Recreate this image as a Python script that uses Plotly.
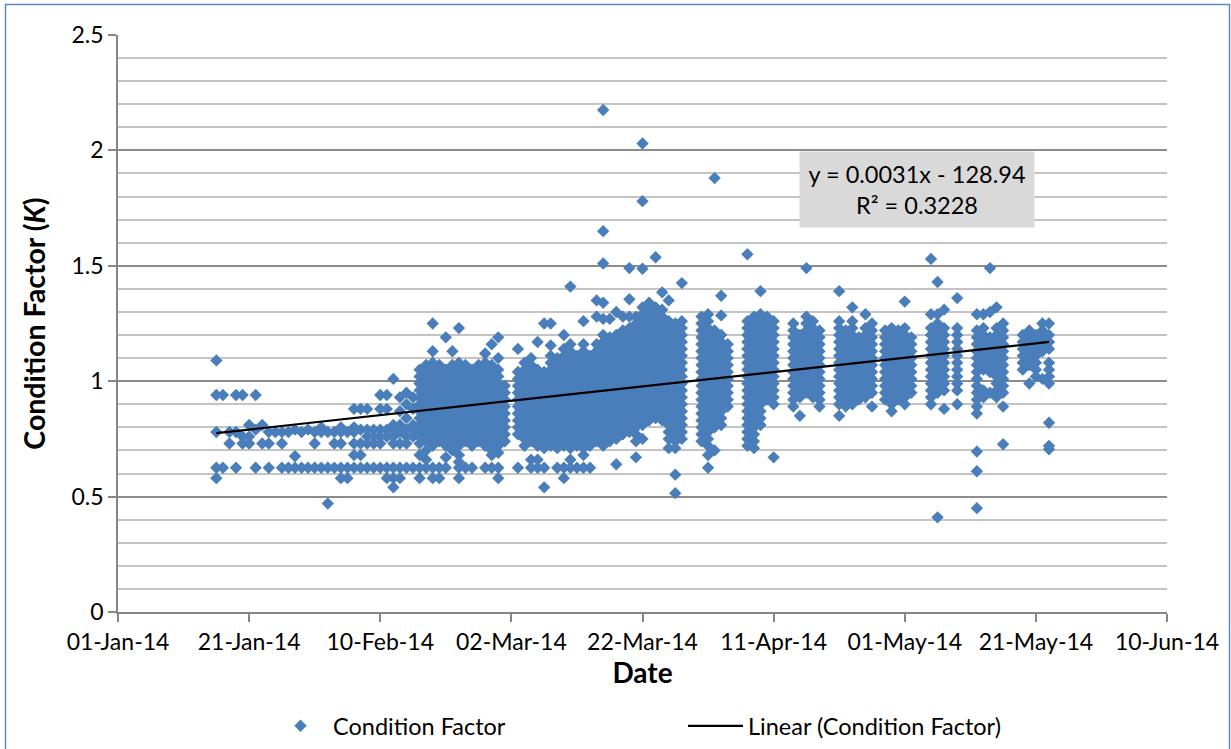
from datetime import date, timedelta
import plotly.graph_objects as go

START = date(2014, 1, 1)

# days after 1 Jan 2014 on which samples were taken
sample_days = [15,16,17,18,19,20,21,22,23,24,25,26,27,28,29,30,31,32,33,34,35,36,37,38,39,40,41,42,43,44,45,46,47,48,49,50,51,52,53,54,55,56,57,58,59,
               61,62,63,64,65,66,67,68,69,70,71,72,73,74,75,76,77,78,79,80,81,82,83,84,85,86,
               89,90,91,92,93,96,97,98,99,100,103,104,105,106,107,110,111,112,113,114,115,117,118,119,120,121,124,125,126,128,131,132,133,134,135,138,139,140,141,142]

# condition factor readings for each sample day
k_by_day = [
 [1.09,.94,.78,.625,.58],[.94,.625],[.78,.73],[.94,.78,.625],[.94,.76,.73],[.81,.76,.73],[.94,.79,.625],[.81,.73],[.78,.73,.625],[.78],
 [.78,.73,.625],[.78,.625],[.79,.675,.625],[.78,.625],[.79,.625],[.78,.73,.625],[.80,.78,.625],[.78,.625,.47],[.78,.73,.625],[.80,.78,.73,.625,.58],
 [.78,.625,.58],[.88,.80,.78,.73,.68,.625],[.88,.79,.73,.68,.625],[.88,.79,.76,.73,.625],[.79,.76,.73,.625],[.94,.88,.79,.76,.73,.625],[.94,.88,.79,.76,.625,.58],
 [1.01,.81,.79,.76,.73,.625,.58,.54],[.93,.87,.81,.78,.73,.625,.58],[.95,.90,.84,.79,.76,.73,.625],[.93,.88,.81,.79,.76,.625],
 [1.05,1.02,.99,.96,.93,.90,.87,.84,.81,.78,.76,.73,.68,.625,.58],
 [1.07,1.04,1.01,.98,.95,.92,.89,.86,.83,.80,.77,.74,.70,.66,.625],
 [1.25,1.13,1.08,1.05,1.02,.99,.96,.93,.90,.87,.84,.81,.78,.75,.72,.625,.58],
 [1.07,1.04,1.01,.98,.95,.92,.89,.86,.83,.80,.77,.74,.625,.58],
 [1.19,1.05,1.02,.99,.96,.93,.90,.87,.84,.81,.78,.75,.72,.67,.625],
 [1.13,1.07,1.04,1.01,.98,.95,.92,.89,.86,.83,.80,.77,.74,.70],
 [1.23,1.08,1.05,1.02,.99,.96,.93,.90,.87,.84,.81,.78,.75,.72,.68,.65,.625,.58],
 [1.07,1.04,1.01,.98,.95,.92,.89,.86,.83,.80,.77,.74,.625],
 [1.05,1.02,.99,.96,.93,.90,.87,.84,.81,.78,.75,.72,.625],
 [1.07,1.04,1.01,.98,.95,.92,.89,.86,.83,.80,.77,.74],
 [1.12,1.08,1.05,1.02,.99,.96,.93,.90,.87,.84,.81,.78,.75,.72,.625],
 [1.16,1.07,1.04,1.01,.98,.95,.92,.89,.86,.83,.80,.77,.74,.70,.68,.625],
 [1.19,1.10,1.05,1.02,.99,.96,.93,.90,.87,.84,.81,.78,.75,.72,.69,.625,.58],
 [.98,.95,.92,.89,.86,.83,.80,.77,.74],
 [1.14,1.04,1.01,.98,.95,.92,.89,.86,.83,.80,.77,.625],
 [1.08,1.05,1.02,.99,.96,.93,.90,.87,.84,.81,.78,.75,.72],
 [1.10,1.07,1.04,1.01,.98,.95,.92,.89,.86,.83,.80,.77,.74,.66,.625],
 [1.17,1.05,1.02,.99,.96,.93,.90,.87,.84,.81,.78,.75,.72,.66,.625],
 [1.25,1.04,1.01,.98,.95,.92,.89,.86,.83,.80,.77,.74,.71,.625,.54],
 [1.25,1.155,1.11,1.08,1.05,1.02,.99,.96,.93,.90,.87,.84,.81,.78,.75,.72],
 [1.10,1.07,1.04,1.01,.98,.95,.92,.89,.86,.83,.80,.77,.74,.71,.625],
 [1.20,1.14,1.11,1.08,1.05,1.02,.99,.96,.93,.90,.87,.84,.81,.78,.75,.72,.625,.58],
 [1.41,1.16,1.13,1.10,1.07,1.04,1.01,.98,.95,.92,.89,.86,.83,.80,.77,.74,.71,.66,.625],
 [1.11,1.08,1.05,1.02,.99,.96,.93,.90,.87,.84,.81,.78,.75,.72,.625],
 [1.26,1.16,1.13,1.10,1.07,1.04,1.01,.98,.95,.92,.89,.86,.83,.80,.77,.74,.71,.68,.625],
 [1.11,1.08,1.05,1.02,.99,.96,.93,.90,.87,.84,.81,.78,.75,.72,.625],
 [1.35,1.28,1.16,1.13,1.10,1.07,1.04,1.01,.98,.95,.92,.89,.86,.83,.80,.77,.74],
 [2.175,1.65,1.51,1.34,1.27,1.20,1.17,1.14,1.11,1.08,1.05,1.02,.99,.96,.93,.90,.87,.84,.81,.78,.75,.72],
 [1.27,1.19,1.16,1.13,1.10,1.07,1.04,1.01,.98,.95,.92,.89,.86,.83,.80,.77,.74],
 [1.30,1.20,1.17,1.14,1.11,1.08,1.05,1.02,.99,.96,.93,.90,.87,.84,.81,.78,.75,.64],
 [1.28,1.22,1.19,1.16,1.13,1.10,1.07,1.04,1.01,.98,.95,.92,.89,.86,.83,.80,.77],
 [1.49,1.355,1.28,1.23,1.20,1.17,1.14,1.11,1.08,1.05,1.02,.99,.96,.93,.90,.87,.84,.81,.78],
 [1.28,1.25,1.22,1.19,1.16,1.13,1.10,1.07,1.04,1.01,.98,.95,.92,.89,.86,.83,.80,.77,.74,.67],
 [2.03,1.78,1.487,1.32,1.29,1.26,1.23,1.20,1.17,1.14,1.11,1.08,1.05,1.02,.99,.96,.93,.90,.87,.84,.81,.75],
 [1.34,1.31,1.28,1.25,1.22,1.19,1.16,1.13,1.10,1.07,1.04,1.01,.98,.95,.92,.89,.86,.83],
 [1.537,1.32,1.29,1.26,1.23,1.20,1.17,1.14,1.11,1.08,1.05,1.02,.99,.96,.93,.90,.87,.84],
 [1.385,1.31,1.28,1.25,1.22,1.19,1.16,1.13,1.10,1.07,1.04,1.01,.98,.95,.92,.89,.86,.83],
 [1.35,1.26,1.23,1.20,1.17,1.14,1.11,1.08,1.05,1.02,.99,.96,.93,.90,.87,.84,.81,.78,.75,.71],
 [1.25,1.22,1.19,1.16,1.13,1.10,1.07,1.04,1.01,.98,.95,.92,.89,.86,.83,.80,.77,.74,.71,.595,.515],
 [1.425,1.26,1.23,1.20,1.17,1.14,1.11,1.08,1.05,1.02,.99,.96,.93,.90,.87,.84,.81,.78,.75],
 [1.28,1.25,1.22,1.19,1.16,1.13,1.10,1.07,1.04,1.01,.98,.95,.92,.89,.86,.83,.80,.77,.74],
 [1.29,1.26,1.23,1.20,1.17,1.14,1.11,1.08,1.05,1.02,.99,.96,.93,.90,.87,.84,.81,.78,.75,.72,.68,.625],
 [1.88,1.22,1.19,1.16,1.13,1.10,1.07,1.04,1.01,.98,.95,.92,.89,.86,.83,.80,.70],
 [1.37,1.285,1.20,1.17,1.14,1.11,1.08,1.05,1.02,.99,.96,.93,.90,.87,.84,.81],
 [1.16,1.13,1.10,1.07,1.04,1.01,.98,.95,.92,.89],
 [1.55,1.26,1.23,1.20,1.17,1.14,1.11,1.08,1.05,1.02,.99,.96,.93,.90,.87,.84,.81,.78,.75,.72],
 [1.28,1.25,1.22,1.19,1.16,1.13,1.10,1.07,1.04,1.01,.98,.95,.92,.89,.86,.83,.80,.77,.74,.71],
 [1.39,1.29,1.26,1.23,1.20,1.17,1.14,1.11,1.08,1.05,1.02,.99,.96,.93,.90,.87,.84,.81],
 [1.28,1.25,1.22,1.19,1.16,1.13,1.10,1.07,1.04,1.01,.98,.95,.92],
 [1.26,1.23,1.20,1.17,1.14,1.11,1.08,1.05,1.02,.99,.96,.93,.90,.67],
 [1.25,1.22,1.19,1.16,1.13,1.10,1.07,1.04,1.01,.98,.95,.92,.89],
 [1.20,1.17,1.14,1.11,1.08,1.05,1.02,.99,.96,.93,.85],
 [1.49,1.28,1.25,1.22,1.19,1.16,1.13,1.10,1.07,1.04,1.01,.98,.95],
 [1.26,1.23,1.20,1.17,1.14,1.11,1.08,1.05,1.02,.99,.96,.93],
 [1.22,1.19,1.16,1.13,1.10,1.07,1.04,1.01,.98,.95,.92,.89],
 [1.39,1.26,1.23,1.20,1.17,1.14,1.11,1.08,1.05,1.02,.99,.96,.93,.90,.85],
 [1.22,1.19,1.16,1.13,1.10,1.07,1.04,1.01,.98,.95,.92,.89],
 [1.32,1.26,1.23,1.20,1.17,1.14,1.11,1.08,1.05,1.02,.99,.96,.93,.90],
 [1.19,1.16,1.13,1.10,1.07,1.04,1.01,.98,.95,.92],
 [1.29,1.23,1.20,1.17,1.14,1.11,1.08,1.05,1.02,.99,.96,.93],
 [1.25,1.22,1.19,1.16,1.13,1.10,1.07,1.04,1.01,.98,.95,.89],
 [1.22,1.19,1.16,1.13,1.10,1.07,1.04,1.01,.98,.95,.92],
 [1.23,1.20,1.17,1.14,1.11,1.08,1.05,1.02,.99,.96,.93,.90,.87],
 [1.22,1.19,1.16,1.13,1.10,1.07,1.04,1.01,.98,.95,.92],
 [1.345,1.23,1.20,1.17,1.14,1.11,1.08,1.05,1.02,.99,.96,.93,.90],
 [1.19,1.16,1.13,1.10,1.07,1.04,1.01,.98,.95],
 [1.53,1.29,1.23,1.20,1.17,1.14,1.11,1.08,1.05,1.02,.99,.96,.93,.90],
 [1.43,1.29,1.25,1.22,1.19,1.16,1.13,1.10,1.07,1.04,1.01,.98,.95,.41],
 [1.31,1.23,1.20,1.17,1.14,1.11,1.08,1.05,1.02,.99,.96,.88],
 [1.36,1.23,1.20,1.17,1.14,1.11,1.08,1.05,1.02,.99,.96,.90],
 [1.29,1.22,1.19,1.16,1.13,1.10,1.07,1.04,1.01,.98,.95,.92,.89,.86,.695,.61,.45],
 [1.29,1.23,1.20,1.17,1.14,1.11,1.08,1.05,.96,.93],
 [1.49,1.30,1.19,1.16,1.13,1.10,1.07,1.04,.95],
 [1.32,1.23,1.20,1.17,1.14,1.11,1.08,1.05,1.02,.99,.96,.93],
 [1.25,1.22,1.19,1.16,1.13,1.10,1.07,1.04,1.01,.98,.95,.89,.727],
 [1.20,1.17,1.14,1.11,1.08,1.05],
 [1.22,1.19,1.16,1.13,1.10,1.07,.99],
 [1.20,1.17,1.14,1.11,1.08,1.05,1.02],
 [1.25,1.22,1.19,1.16,1.13,1.01],
 [1.25,1.20,1.17,1.14,1.08,1.05,1.02,.99,.82,.72,.705],
]

trend_days = [15, 142]
trend_k = [0.775, 1.17]

y_ticks = [0, 0.5, 1, 1.5, 2, 2.5]
y_tick_labels = ["0", "0.5", "1", "1.5", "2", "2.5"]
axis_start, axis_end = "2014-01-01", "2014-06-10"


def to_date(d):
    return START + timedelta(days=d)


xs, ys = [], []
for d, values in zip(sample_days, k_by_day):
    for v in values:
        xs.append(to_date(d))
        ys.append(v)

FONT = "Lato, Carlito, Calibri, sans-serif"
BLUE = "#4a7ebb"

fig = go.Figure()
fig.add_trace(go.Scatter(x=xs, y=ys, mode="markers", name="Condition Factor",
                         marker=dict(symbol="diamond", size=9.5, color=BLUE, line=dict(width=0))))
fig.add_trace(go.Scatter(x=[to_date(d) for d in trend_days], y=trend_k, mode="lines",
                         name="Linear (Condition Factor)", line=dict(color="#000000", width=2.2)))

W, H = 1231, 749
L, R, T, B = 118, 1167, 35, 612
PW, PH = R - L, B - T


def px_x(p):
    return (p - L) / PW


def px_y(p):
    return (B - p) / PH


fig.update_layout(
    width=W, height=H, autosize=False, paper_bgcolor="white", plot_bgcolor="white",
    margin=dict(l=L, r=W - R, t=T, b=H - B, pad=0, autoexpand=False),
    font=dict(family=FONT, size=23, color="#000000"),
    showlegend=True,
    legend=dict(orientation="h", x=px_x(268), xanchor="left", y=px_y(704), yanchor="top",
                itemwidth=55, entrywidth=345, entrywidthmode="pixels",
                font=dict(size=23.5, family=FONT), bgcolor="rgba(0,0,0,0)", traceorder="normal"),
    shapes=[dict(type="rect", xref="paper", yref="paper", x0=px_x(5.5), x1=px_x(1229.5), y0=px_y(760), y1=px_y(4.5),
                 line=dict(color="#5b8ac0", width=1.5), fillcolor="rgba(0,0,0,0)", layer="below")],
    annotations=[dict(xref="paper", yref="paper", x=px_x(917), y=px_y(189.5), xanchor="center", yanchor="middle",
                      text="y = 0.0031x - 128.94<br>R² = 0.3228", showarrow=False, align="center",
                      bgcolor="#d9d9d9", width=232, height=73, font=dict(size=23.5, family=FONT))],
)
fig.update_xaxes(type="date", range=[axis_start, axis_end], tick0=axis_start, dtick=20 * 86400000,
                 tickformat="%d-%b-%y", ticks="outside", ticklen=8, tickcolor="#868686", tickwidth=1.5,
                 showline=True, linecolor="#868686", linewidth=2, showgrid=False, zeroline=False, automargin=False,
                 tickfont=dict(size=23, family=FONT),
                 title=dict(text="<b>Date</b>", font=dict(size=28, family=FONT), standoff=10))
fig.update_yaxes(range=[0, 2.5], tickmode="array", tickvals=y_ticks, ticktext=y_tick_labels,
                 ticks="outside", ticklen=8, tickcolor="#868686", tickwidth=1.5,
                 showline=True, linecolor="#868686", linewidth=1.5, zeroline=False, automargin=False,
                 showgrid=True, gridcolor="#8c8c8c", gridwidth=1.5,
                 minor=dict(dtick=0.1, showgrid=True, gridcolor="#c4c4c4", gridwidth=1.5, ticks=""),
                 tickfont=dict(size=23, family=FONT),
                 title=dict(text="<b>Condition Factor (<i>K</i>)</b>", font=dict(size=28.5, family=FONT), standoff=18))

fig.write_html("out.html", config=dict(displayModeBar=False),
               post_script="document.body.style.margin='0';document.body.style.overflow='hidden';")
